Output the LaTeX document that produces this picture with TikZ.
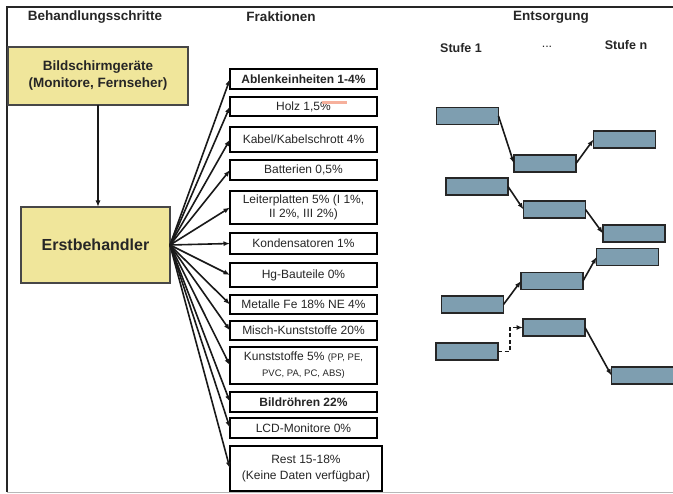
\documentclass[tikz,border=0pt]{standalone}
\usepackage{fontspec}
\setmainfont{Liberation Sans}
\usetikzlibrary{arrows.meta}
\definecolor{boxyellow}{HTML}{F0E69B}
\definecolor{stageblue}{HTML}{7E9EB0}
\definecolor{ink}{HTML}{262626}
\definecolor{memo}{HTML}{F6B09C}

\begin{document}
\begin{tikzpicture}[x=1pt,y=-1pt,
  every node/.style={inner sep=0pt, outer sep=0pt},
  head/.style={font=\fontsize{13.5}{16}\selectfont\bfseries, text=ink},
  stage/.style={font=\fontsize{12.5}{15}\selectfont\bfseries, text=ink},
  yellowbox/.style={draw=ink!85, line width=1.2pt, fill=boxyellow, align=center, text=ink},
  fracbox/.style={draw=black, line width=2pt, fill=white, minimum width=147pt,
    align=center, font=\fontsize{12}{14}\selectfont, text=ink},
  disbox/.style={draw=black!85, line width=1.6pt, fill=stageblue,
    minimum width=62pt, minimum height=17pt},
  arr/.style={-{Latex[length=6.5pt,width=5pt]}, line width=1.6pt, black!90},
]
\useasboundingbox (0,0) rectangle (673,494);

% frame
\draw[line width=2.2pt, ink] (673,7) -- (7,7) -- (7,492);
\draw[line width=1.2pt, black!28] (7,492.5) -- (673,492.5);

% column headings
\node[head] (h1) at (95,17) {Behandlungsschritte};
\node[head] (h2) at (281,17) {Fraktionen};
\node[head] (h3) at (551,17) {Entsorgung};
\node[stage] (s1) at (461,48) {Stufe 1};
\node[stage, font=\fontsize{12.5}{15}\selectfont] (s2) at (547,47) {...};
\node[stage] (s3) at (626,45) {Stufe n};

% treatment steps
\node[yellowbox, minimum width=180pt, minimum height=58pt,
  font=\fontsize{13.5}{17}\selectfont\bfseries] (src) at (98,76)
  {Bildschirmgeräte\\(Monitore, Fernseher)};
\node[yellowbox, minimum width=149pt, minimum height=76pt,
  font=\fontsize{16}{19}\selectfont\bfseries] (eb) at (95.5,245) {Erstbehandler};
\draw[arr] (src.south) -- (src.south |- eb.north);

% fractions
\node[fracbox, line width=2.5pt, minimum height=20pt, font=\fontsize{12}{14}\selectfont\bfseries] (f1) at (303.5,79) {Ablenkeinheiten 1-4\%};
\node[fracbox, minimum height=19pt] (f2) at (303.5,106.5) {Holz 1,5\%};
\node[fracbox, minimum height=25pt] (f3) at (303.5,139.5) {Kabel/Kabelschrott 4\%};
\node[fracbox, minimum height=20pt] (f4) at (303.5,170) {Batterien 0,5\%};
\node[fracbox, minimum height=33pt] (f5) at (303.5,207.5) {Leiterplatten 5\% (I 1\%,\\II 2\%, III 2\%)};
\node[fracbox, minimum height=21pt] (f6) at (303.5,243.5) {Kondensatoren 1\%};
\node[fracbox, minimum height=24pt] (f7) at (303.5,275) {Hg-Bauteile 0\%};
\node[fracbox, minimum height=19pt] (f8) at (303.5,304.5) {Metalle Fe 18\% NE 4\%};
\node[fracbox, minimum height=19pt] (f9) at (303.5,330.5) {Misch-Kunststoffe 20\%};
\node[fracbox, minimum height=37pt, font=\fontsize{12}{16}\selectfont] (f10) at (303.5,365.5)
  {Kunststoffe 5\% {\fontsize{9.5}{16}\selectfont(PP, PE,}\\{\fontsize{9.5}{16}\selectfont PVC, PA, PC, ABS)}};
\node[fracbox, line width=2.5pt, minimum height=20pt, font=\fontsize{12}{14}\selectfont\bfseries] (f11) at (303.5,402) {Bildröhren 22\%};
\node[fracbox, minimum height=20pt, text depth=-2pt] (f12) at (303.5,428) {LCD-Monitore 0\%};
\node[fracbox, minimum width=152pt, minimum height=45pt, font=\fontsize{12}{16}\selectfont] (f13) at (306,468.5)
  {Rest 15-18\%\\(Keine Daten verfügbar)};

% marker stroke after the wood share
\fill[memo] (322,101) rectangle (347,104.5);

% fan of fractions
\foreach \f in {f1,f2,f3,f4,f5,f6,f7,f8,f9,f10,f11,f12,f13}
  \draw[arr] (eb.east) -- (\f.west);

% disposal stages
\node[disbox] (dA) at (467.5,116) {};
\node[disbox] (dB) at (545,163.5) {};
\node[disbox] (dC) at (624.5,139.5) {};
\node[disbox] (dD) at (477,186.5) {};
\node[disbox] (dE) at (554.5,209.5) {};
\node[disbox] (dF) at (634,233.5) {};
\node[disbox] (dG) at (627.5,257) {};
\node[disbox] (dH) at (472.5,304.5) {};
\node[disbox] (dI) at (552,281) {};
\node[disbox] (dJ) at (554,327.5) {};
\node[disbox] (dK) at (467,351.5) {};
\node[disbox] (dL) at (642.5,375.5) {};

\draw[arr] (dA.east) -- (dB.west);
\draw[arr] (dB.east) -- (dC.west);
\draw[arr] (dD.east) -- (dE.west);
\draw[arr] (dE.east) -- (dF.west);
\draw[arr] (dH.east) -- (dI.west);
\draw[arr] (dI.east) -- (dG.west);
\draw[arr, dash pattern=on 4pt off 2.5pt] (dK.east) -- ++(12,0) |- (dJ.west);
\draw[arr] (dJ.east) -- (dL.west);
\end{tikzpicture}
\end{document}
